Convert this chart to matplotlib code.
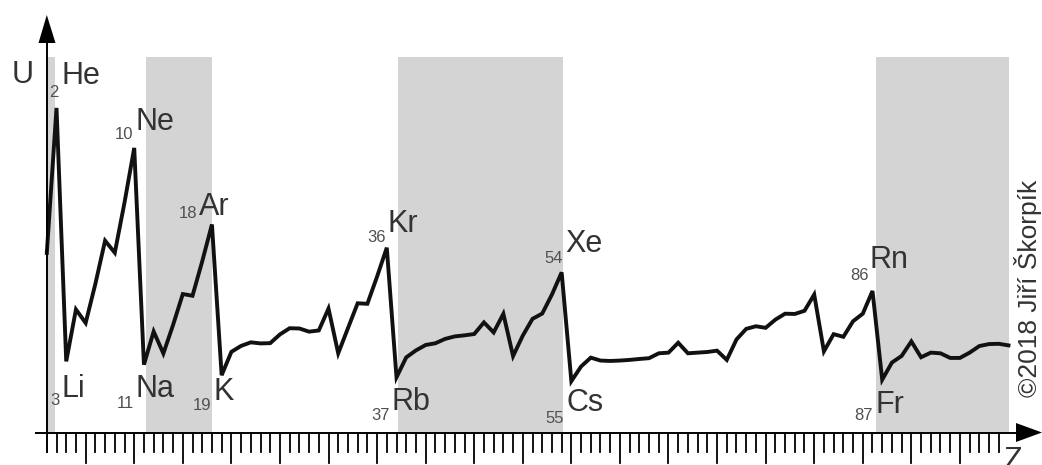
import matplotlib
matplotlib.use("Agg")
import matplotlib.pyplot as plt

# first ionisation energy (eV), Z = 1 .. 100
z = list(range(1, 101))
energy = [
	13.60, 24.59, 5.39, 9.32, 8.30, 11.26, 14.53, 13.62, 17.42, 21.56,
	5.14, 7.65, 5.99, 8.15, 10.49, 10.36, 12.97, 15.76, 4.34, 6.11,
	6.56, 6.83, 6.75, 6.77, 7.43, 7.90, 7.88, 7.64, 7.73, 9.39,
	6.00, 7.90, 9.79, 9.75, 11.81, 14.00, 4.18, 5.69, 6.22, 6.63,
	6.76, 7.09, 7.28, 7.36, 7.46, 8.34, 7.58, 8.99, 5.79, 7.34,
	8.61, 9.01, 10.45, 12.13, 3.89, 5.00, 5.67, 5.45, 5.42, 5.45,
	5.50, 5.57, 5.63, 6.00, 6.05, 6.80, 6.00, 6.05, 6.10, 6.20,
	5.50, 7.05, 7.85, 8.05, 7.93, 8.55, 9.00, 8.98, 9.22, 10.45,
	6.15, 7.45, 7.25, 8.43, 9.00, 10.72, 4.00, 5.30, 5.80, 6.90,
	5.70, 6.05, 6.00, 5.65, 5.65, 6.05, 6.55, 6.70, 6.72, 6.60,
]

# shaded periods (1, 3, 5, 7)
bands = [(1.0, 1.85), (11.2, 18.0), (37.15, 54.1), (86.35, 100.1)]

# labelled elements
top_names = ["He", "Ne", "Ar", "Kr", "Xe", "Rn"]
top_z = ["2", "10", "18", "36", "54", "86"]
low_names = ["Li", "Na", "K", "Rb", "Cs", "Fr"]
low_z = ["3", "11", "19", "37", "55", "87"]

# label placement in pixels: symbol (left, baseline), number (right, baseline)
top_pos = [((62, 84), (59, 97)), ((136, 130), (133, 139)), ((199, 215), (197, 218)),
	((387, 232), (386, 242)), ((565, 252), (563, 263)), ((870, 268), (869, 280))]
low_pos = [((62, 397), (60, 405)), ((136, 397), (134, 408)), ((213, 400), (211, 410)),
	((392, 410), (390, 420)), ((566, 411), (564, 423)), ((875, 413), (873, 420))]

W, H = 1042, 465
PX_Z = 9.714   # pixels per unit Z
PX_E = 13.2    # pixels per eV
X0 = 46.8      # pixel of Z = 1
Y0 = 432.5     # pixel of U = 0

def px2z(px):
	return 1 + (px - X0) / PX_Z

def py2e(py):
	return (Y0 - py) / PX_E

plt.rcParams["font.family"] = ["Liberation Sans", "DejaVu Sans"]

fig = plt.figure(figsize=(W / 100., H / 100.), dpi=100)
ax = fig.add_axes([0, 0, 1, 1])
ax.set_xlim(px2z(0), px2z(W))
ax.set_ylim(py2e(H), py2e(0))
ax.axis("off")

top_e = py2e(57)
for a, b in bands:
	ax.fill_between([a, b], 0, top_e, color="#d4d4d4", lw=0, zorder=1)

ax.plot(z, energy, color="#111111", lw=2.8, solid_joinstyle="miter", zorder=3)

# axes drawn by hand
ax.plot([px2z(36), px2z(1018)], [0, 0], color="black", lw=1.4, zorder=4)
ax.plot([1, 1], [py2e(452), py2e(40)], color="black", lw=1.4, zorder=4)
ax.fill([px2z(1016), px2z(1042), px2z(1016)], [py2e(423), py2e(432.5), py2e(442)],
	color="black", lw=0, zorder=4)
ax.fill([px2z(38.5), px2z(46.8), px2z(55.5)], [py2e(43), py2e(15), py2e(43)],
	color="black", lw=0, zorder=4)

for t in range(2, 100):
	bottom = 463 if t % 5 == 0 else 452
	ax.plot([t, t], [0, py2e(bottom)], color="black", lw=1.3, zorder=4)

# element labels
for names, nums, pos in [(top_names, top_z, top_pos), (low_names, low_z, low_pos)]:
	for name, num, (sp, npos) in zip(names, nums, pos):
		ax.text(px2z(sp[0]), py2e(sp[1]), name, fontsize=22, color="#333333",
			ha="left", va="baseline", zorder=5)
		ax.text(px2z(npos[0]), py2e(npos[1]), num, fontsize=12, color="#505050",
			ha="right", va="baseline", zorder=5)

ax.text(px2z(12), py2e(83), "U", fontsize=22, color="#333333", ha="left", va="baseline")
ax.text(px2z(1004), py2e(469), "Z", fontsize=22, color="#333333", ha="left", va="baseline")
ax.text(px2z(1028), py2e(288), "©2018 Jiří Škorpík", fontsize=19, color="#333333",
	rotation=90, ha="center", va="center")

plt.savefig("out.png", dpi=100)
